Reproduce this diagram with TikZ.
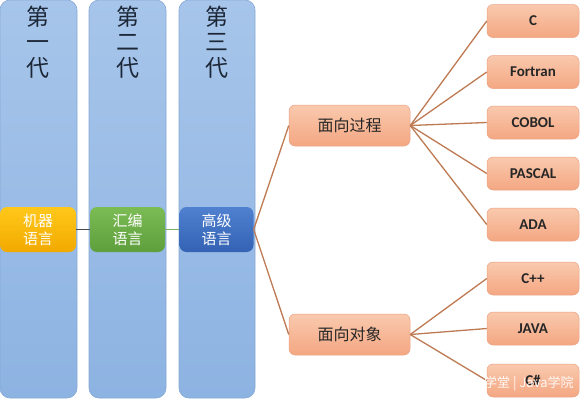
\documentclass[tikz,border=0pt]{standalone}
\usepackage{fontspec}
\setmainfont{Carlito}
\newfontfamily\cjk{Noto Sans CJK SC}
\begin{document}
\begin{tikzpicture}[x=1pt,y=-1pt,
  colbox/.style={rounded corners=10pt, draw=colborder, line width=0.6pt, top color=colTop, bottom color=colBot},
  coltext/.style={text=coltxt, font=\cjk\fontsize{23}{25.5}\selectfont, align=center, inner sep=0pt},
  genbox/.style={rounded corners=7pt, minimum width=75pt, minimum height=45pt, inner sep=0pt, text=white, font=\cjk\fontsize{15}{18}\selectfont, align=center},
  oobox/.style={rounded corners=6pt, minimum width=121pt, minimum height=41pt, inner sep=0pt, draw=salBorder, line width=0.5pt, top color=salTop, bottom color=salBot, text=black!85, font=\cjk\fontsize{16}{18}\selectfont},
  langbox/.style={rounded corners=6pt, minimum width=92pt, minimum height=33pt, inner sep=0pt, draw=salBorder, line width=0.5pt, top color=salTop, bottom color=salBot, text=black!85, font=\bfseries\fontsize{15}{17}\selectfont},
  link/.style={draw=linkc, line width=1.3pt}
]
\definecolor{colTop}{HTML}{A7C5EA}
\definecolor{colBot}{HTML}{8DB3E2}
\definecolor{colborder}{HTML}{86A9D6}
\definecolor{coltxt}{HTML}{1C2838}
\definecolor{salTop}{HTML}{F9C9AE}
\definecolor{salBot}{HTML}{F4A782}
\definecolor{salBorder}{HTML}{EBA486}
\definecolor{linkc}{HTML}{BE7A52}
\definecolor{yelTop}{HTML}{FFC81A}
\definecolor{yelBot}{HTML}{F2A900}
\definecolor{grnTop}{HTML}{7CBC55}
\definecolor{grnBot}{HTML}{5E9E3C}
\definecolor{bluTop}{HTML}{4F81D0}
\definecolor{bluBot}{HTML}{3462B4}
\useasboundingbox (0,0) rectangle (583,400);
\fill[white] (0,0) rectangle (583,400);

% generation columns
\draw[colbox] (0,0) rectangle (77,398);
\draw[colbox] (89,0) rectangle (166,398);
\draw[colbox] (179,0) rectangle (255,398);
\node[coltext] (g1) at (38,42) {第\\一\\代};
\node[coltext] (g2) at (127.5,42) {第\\二\\代};
\node[coltext] (g3) at (217,42) {第\\三\\代};

% language generation boxes
\node[genbox, top color=yelTop, bottom color=yelBot, minimum width=76pt] (m1) at (38,229.5) {机器\\语言};
\node[genbox, top color=grnTop, bottom color=grnBot] (m2) at (127.5,229.5) {汇编\\语言};
\node[genbox, top color=bluTop, bottom color=bluBot, minimum width=74pt] (m3) at (216.5,229.5) {高级\\语言};
\draw[draw=black!70, line width=1.3pt] (m1) -- (m2);
\draw[draw=grnBot!80, line width=1.3pt] (m2) -- (m3);

% paradigm boxes
\node[oobox] (p) at (349.5,125.5) {面向过程};
\node[oobox] (o) at (349.5,334.5) {面向对象};
\draw[link] (m3.east) -- (p.west);
\draw[link] (m3.east) -- (o.west);

% languages
\node[langbox] (c) at (533,21) {C};
\node[langbox] (f) at (533,72) {Fortran};
\node[langbox] (cb) at (533,122.5) {COBOL};
\node[langbox] (pa) at (533,173.5) {PASCAL};
\node[langbox] (ad) at (533,224.5) {ADA};
\node[langbox] (cp) at (533,278.5) {C++};
\node[langbox] (ja) at (533,328.5) {JAVA};
\node[langbox] (cs) at (533,380.5) {C\#};
\foreach \t in {c,f,cb,pa,ad} \draw[link] (p.east) -- (\t.west);
\foreach \t in {cp,ja,cs} \draw[link] (o.east) -- (\t.west);

% watermark
\node[text=white, opacity=0.9, font=\cjk\fontsize{13}{15}\selectfont, inner sep=0pt, anchor=west] (wm) at (484,384) {学堂 | Java学院};
\end{tikzpicture}
\end{document}
